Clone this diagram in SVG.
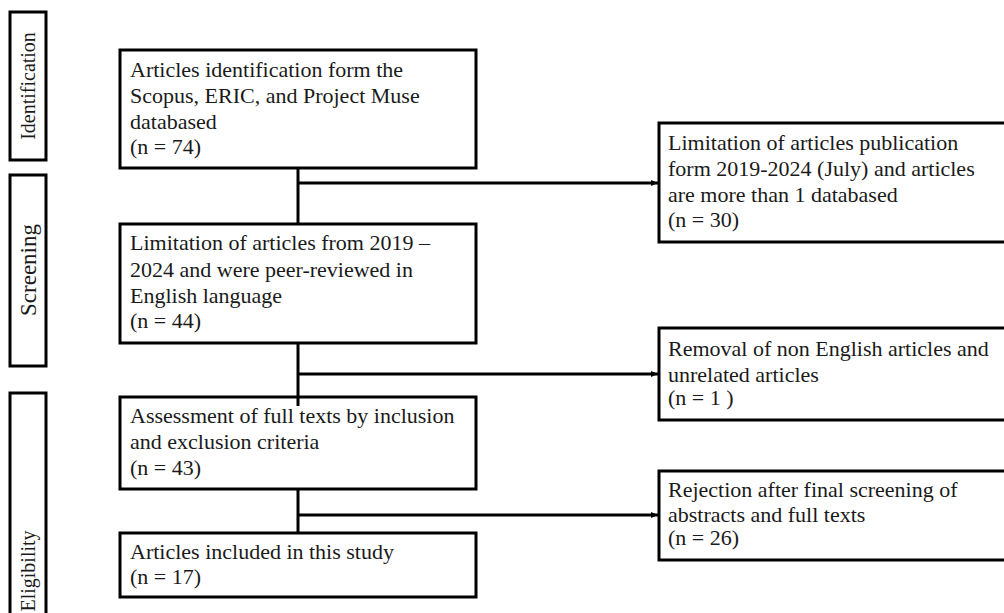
<svg xmlns="http://www.w3.org/2000/svg" width="1004" height="613" viewBox="0 0 1004 613">
<style>
.box{fill:#fff;stroke:#000;stroke-width:3}
.t{font-family:"Liberation Serif","Times New Roman",serif;font-size:22px;fill:#1a1a1a}
.s{font-family:"Liberation Serif","Times New Roman",serif;font-size:20px;fill:#1a1a1a}
.c{fill:none;stroke:#000;stroke-width:3}
</style>
<defs>
<marker id="ah" markerWidth="8" markerHeight="8" refX="7" refY="4" orient="auto" markerUnits="userSpaceOnUse">
<path d="M0,1 L7,4 L0,7 Z" fill="#000"/>
</marker>
</defs>
<rect width="1004" height="613" fill="#fff"/>

<g id="label-identification">
<rect class="box" x="10" y="12" width="36" height="148"/>
<text class="s" transform="translate(35,86) rotate(-90)" text-anchor="middle">Identification</text>
</g>
<g id="label-screening">
<rect class="box" x="10" y="175" width="36" height="191"/>
<text class="s" transform="translate(36,270) rotate(-90)" text-anchor="middle" style="font-size:23px">Screening</text>
</g>
<g id="label-eligibility">
<rect class="box" x="10" y="393" width="36" height="230"/>
<text class="s" transform="translate(35,571) rotate(-90)" text-anchor="middle">Eligibility</text>
</g>

<g id="connectors">
<line class="c" x1="298" y1="168" x2="298" y2="224"/>
<line class="c" x1="298" y1="343" x2="298" y2="406"/>
<line class="c" x1="298" y1="489" x2="298" y2="533"/>
<line class="c" x1="298" y1="183" x2="658" y2="183" marker-end="url(#ah)"/>
<line class="c" x1="298" y1="374" x2="658" y2="374" marker-end="url(#ah)"/>
<line class="c" x1="298" y1="515" x2="658" y2="515" marker-end="url(#ah)"/>
</g>

<g id="node-identification">
<rect class="box" x="120" y="50" width="356" height="118"/>
<text class="t" x="130" y="77">Articles identification form the</text>
<text class="t" x="130" y="103">Scopus, ERIC, and Project Muse</text>
<text class="t" x="130" y="129">databased</text>
<text class="t" x="130" y="154">(n = 74)</text>
</g>

<g id="node-limitation">
<rect class="box" x="120" y="224" width="356" height="119"/>
<text class="t" x="130" y="250">Limitation of articles from 2019 –</text>
<text class="t" x="130" y="277">2024 and were peer-reviewed in</text>
<text class="t" x="130" y="303">English language</text>
<text class="t" x="130" y="328">(n = 44)</text>
</g>

<g id="node-assessment">
<rect class="box" x="120" y="397" width="356" height="92"/>
<line class="c" x1="298" y1="397" x2="298" y2="406"/>
<text class="t" x="130" y="423">Assessment of full texts by inclusion</text>
<text class="t" x="130" y="449">and exclusion criteria</text>
<text class="t" x="130" y="475">(n = 43)</text>
</g>

<g id="node-included">
<rect class="box" x="120" y="533" width="356" height="64"/>
<text class="t" x="130" y="559">Articles included in this study</text>
<text class="t" x="130" y="584">(n = 17)</text>
</g>

<g id="node-excluded-1">
<rect class="box" x="659" y="123" width="360" height="119"/>
<text class="t" x="668" y="150">Limitation of articles publication</text>
<text class="t" x="668" y="176">form 2019-2024 (July) and articles</text>
<text class="t" x="668" y="202">are more than 1 databased</text>
<text class="t" x="668" y="227">(n = 30)</text>
</g>

<g id="node-excluded-2">
<rect class="box" x="659" y="328" width="360" height="92"/>
<text class="t" x="668" y="356">Removal of non English articles and</text>
<text class="t" x="668" y="382">unrelated articles</text>
<text class="t" x="668" y="405">(n = 1 )</text>
</g>

<g id="node-excluded-3">
<rect class="box" x="659" y="471" width="360" height="89"/>
<text class="t" x="668" y="497">Rejection after final screening of</text>
<text class="t" x="668" y="522">abstracts and full texts</text>
<text class="t" x="668" y="545">(n = 26)</text>
</g>
</svg>
